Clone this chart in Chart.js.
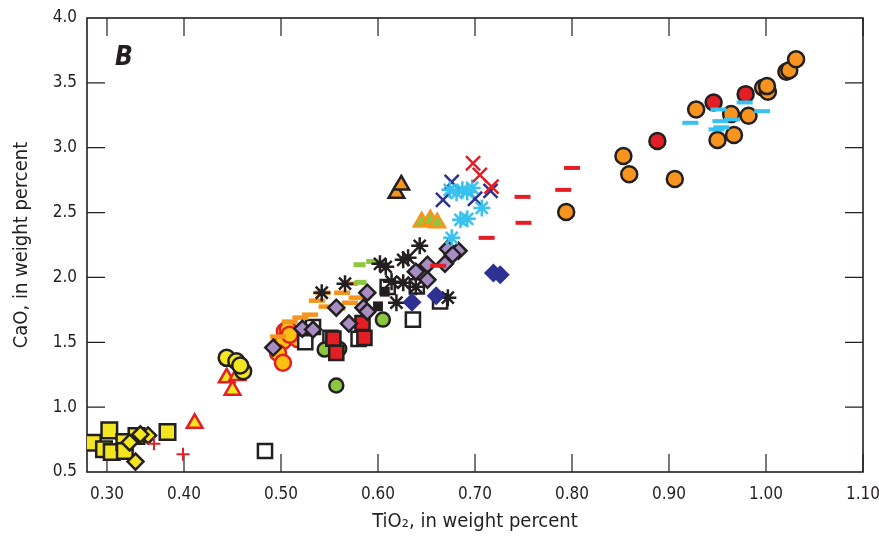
<!DOCTYPE html>
<html>
<head>
<meta charset="utf-8">
<script src="https://cdn.jsdelivr.net/npm/chart.js@4.4.1/dist/chart.umd.min.js"></script>
<style>
  html, body { margin: 0; padding: 0; background: #fff; }
</style>
</head>
<body>
<canvas id="chart" width="879" height="543"></canvas>
<script>
const FONT = "'Liberation Sans Narrow', 'DejaVu Sans Condensed', Roboto, sans-serif";

// axis ticks (the "0.30" tick sits a bit right of the left frame in the original)
const xTickValues = [0.3206, 0.4, 0.5, 0.6, 0.7, 0.8, 0.9, 1.0, 1.1];
const xTickLabels = ["0.30", "0.40", "0.50", "0.60", "0.70", "0.80", "0.90", "1.00", "1.10"];
const yTickValues = [1.0, 1.5, 2.0, 2.5, 3.0, 3.5];

// [TiO2, CaO] pairs, one list per symbol
const yellowSquares = [[0.306, 0.726], [0.323, 0.821], [0.3175, 0.675], [0.3255, 0.654], [0.3385, 0.731], [0.339, 0.662], [0.351, 0.777], [0.383, 0.808]];
const yellowDiamonds = [[0.350, 0.580], [0.363, 0.782], [0.355, 0.790], [0.344, 0.728]];
const redPlus = [[0.369, 0.718], [0.399, 0.636]];
const yellowTriangles = [[0.411, 0.875], [0.444, 1.226], [0.450, 1.131], [0.455, 1.244]];
const yellowCircles = [[0.444, 1.380], [0.454, 1.354], [0.461, 1.277], [0.458, 1.321]];
const goldCircles = [[0.504, 1.585], [0.507, 1.603], [0.517, 1.526], [0.502, 1.508], [0.497, 1.418], [0.502, 1.342], [0.509, 1.559]];
const purpleDiamonds = [[0.492, 1.459], [0.522, 1.605], [0.533, 1.598], [0.570, 1.644], [0.557, 1.767], [0.585, 1.767], [0.589, 1.736], [0.589, 1.882], [0.639, 2.044], [0.651, 2.098], [0.651, 1.982], [0.669, 2.105], [0.672, 2.221], [0.683, 2.205], [0.677, 2.175]];
const orangeDashes = [[0.543, 1.882], [0.563, 1.882], [0.571, 1.952], [0.537, 1.821], [0.578, 1.844], [0.571, 1.805], [0.547, 1.775], [0.558, 1.759], [0.530, 1.713], [0.520, 1.690], [0.509, 1.659], [0.497, 1.544]];
const greenDashes = [[0.581, 2.098], [0.594, 2.123], [0.582, 1.962]];
const blackStars = [[0.602, 2.105], [0.608, 2.082], [0.626, 2.136], [0.631, 2.152], [0.643, 2.244], [0.614, 1.967], [0.626, 1.959], [0.639, 1.928], [0.619, 1.805], [0.672, 1.844], [0.566, 1.952], [0.542, 1.882]];
const blackSquares = [[0.600, 1.777], [0.607, 1.890]];
const openSquares = [[0.4835, 0.662], [0.525, 1.500], [0.533, 1.618], [0.580, 1.526], [0.610, 1.926], [0.636, 1.675], [0.640, 1.931], [0.664, 1.815], [0.551, 1.534]];
const redSquares = [[0.554, 1.528], [0.584, 1.649], [0.586, 1.534], [0.557, 1.418]];
const greenCircles = [[0.545, 1.444], [0.560, 1.449], [0.557, 1.167], [0.605, 1.675]];
const navyDiamonds = [[0.635, 1.808], [0.660, 1.859], [0.719, 2.034], [0.726, 2.021]];
const orangeTriangles = [[0.619, 2.649], [0.624, 2.713]];
const greenTriangles = [[0.645, 2.428], [0.654, 2.444], [0.661, 2.421]];
const navyCrosses = [[0.676, 2.736], [0.667, 2.598], [0.700, 2.606], [0.716, 2.667]];
const blueStars = [[0.674, 2.675], [0.681, 2.652], [0.687, 2.675], [0.692, 2.659], [0.697, 2.690], [0.707, 2.536], [0.685, 2.444], [0.692, 2.452], [0.676, 2.305]];
const redCrosses = [[0.698, 2.880], [0.705, 2.790], [0.717, 2.700]];
const redDashes = [[0.662, 2.090], [0.712, 2.305], [0.749, 2.621], [0.750, 2.421], [0.791, 2.675], [0.800, 2.844]];
const orangeCircles = [[0.794, 2.505], [0.853, 2.936], [0.859, 2.795], [0.906, 2.759], [0.928, 3.295], [0.950, 3.059], [0.967, 3.098], [0.964, 3.259], [0.982, 3.246], [0.997, 3.462], [1.002, 3.431], [1.001, 3.475], [1.021, 3.585], [1.024, 3.598], [1.031, 3.682]];
const redCircles = [[0.888, 3.052], [0.946, 3.349], [0.979, 3.413]];
const blueDashes = [[0.922, 3.192], [0.951, 3.295], [0.978, 3.349], [0.996, 3.282], [0.953, 3.205], [0.965, 3.218], [0.949, 3.141], [0.954, 3.157]];

const YELLOW = "#f3e51f", ORANGE = "#f7941d", RED = "#e31e24", PURPLE = "#a78dc3",
  NAVY = "#2e3192", LBLUE = "#37c2ef", GREEN = "#8dc63f", INK = "#231f20";

function series(pts, style) {
  return Object.assign({ data: pts.map(([x, y]) => ({ x, y })), pointHoverRadius: 0 }, style);
}

// first dataset is drawn on top
const datasets = [
  series(blueDashes, { pointStyle: "line", radius: 8, borderWidth: 4, borderColor: LBLUE }),
  series(redCircles, { pointStyle: "circle", radius: 8, borderWidth: 2.5, borderColor: INK, backgroundColor: RED }),
  series(orangeCircles, { pointStyle: "circle", radius: 8, borderWidth: 2.5, borderColor: INK, backgroundColor: ORANGE }),
  series(redDashes, { pointStyle: "line", radius: 8, borderWidth: 4, borderColor: RED }),
  series(redCrosses, { pointStyle: "crossRot", radius: 10, borderWidth: 2.5, borderColor: RED }),
  series(blueStars, { pointStyle: "star", radius: 8.5, borderWidth: 2.5, borderColor: LBLUE }),
  series(navyCrosses, { pointStyle: "crossRot", radius: 10, borderWidth: 2.5, borderColor: NAVY }),
  series(greenTriangles, { pointStyle: "triangle", radius: 9, borderWidth: 2.5, borderColor: ORANGE, backgroundColor: GREEN }),
  series(orangeTriangles, { pointStyle: "triangle", radius: 9, borderWidth: 2.5, borderColor: INK, backgroundColor: ORANGE }),
  series(navyDiamonds, { pointStyle: "rectRot", radius: 9.5, borderWidth: 0, backgroundColor: NAVY }),
  series(blackStars, { pointStyle: "star", radius: 8.5, borderWidth: 2.5, borderColor: INK }),
  series(purpleDiamonds, { pointStyle: "rectRot", radius: 8, borderWidth: 2.5, borderColor: INK, backgroundColor: PURPLE }),
  series(greenDashes, { pointStyle: "line", radius: 6, borderWidth: 5, borderColor: GREEN }),
  series(orangeDashes, { pointStyle: "line", radius: 8, borderWidth: 4.5, borderColor: ORANGE }),
  series(blackSquares, { pointStyle: "rect", radius: 7, borderWidth: 0, backgroundColor: INK }),
  series(redSquares, { pointStyle: "rect", radius: 10, borderWidth: 2.5, borderColor: INK, backgroundColor: RED }),
  series(greenCircles, { pointStyle: "circle", radius: 7, borderWidth: 2.5, borderColor: INK, backgroundColor: GREEN }),
  series(openSquares, { pointStyle: "rect", radius: 10, borderWidth: 2.5, borderColor: INK, backgroundColor: "#fff" }),
  series(goldCircles, { pointStyle: "circle", radius: 8, borderWidth: 2.5, borderColor: RED, backgroundColor: "#fdc20f" }),
  series(yellowCircles, { pointStyle: "circle", radius: 8, borderWidth: 2.5, borderColor: INK, backgroundColor: YELLOW }),
  series(yellowTriangles, { pointStyle: "triangle", radius: 9, borderWidth: 2.5, borderColor: RED, backgroundColor: YELLOW }),
  series(redPlus, { pointStyle: "cross", radius: 6.5, borderWidth: 2, borderColor: RED }),
  series(yellowDiamonds, { pointStyle: "rectRot", radius: 8, borderWidth: 2.5, borderColor: INK, backgroundColor: YELLOW }),
  series(yellowSquares, { pointStyle: "rect", radius: 11, borderWidth: 2.5, borderColor: INK, backgroundColor: YELLOW }),
];

// frame, inward tick marks on all four sides, panel letter
const framePlugin = {
  id: "frame",
  beforeDatasetsDraw(chart) {
    const { ctx, chartArea: a, scales: { x, y } } = chart;
    ctx.save();
    ctx.strokeStyle = INK;
    ctx.lineWidth = 1.2;
    ctx.beginPath();
    xTickValues.forEach(v => {
      const px = x.getPixelForValue(v);
      ctx.moveTo(px, a.bottom); ctx.lineTo(px, a.bottom - 18);
      ctx.moveTo(px, a.top); ctx.lineTo(px, a.top + 18);
    });
    yTickValues.forEach(v => {
      const py = y.getPixelForValue(v);
      ctx.moveTo(a.left, py); ctx.lineTo(a.left + 18, py);
      ctx.moveTo(a.right, py); ctx.lineTo(a.right - 18, py);
    });
    ctx.stroke();
    ctx.lineWidth = 1.6;
    ctx.strokeRect(a.left, a.top, a.right - a.left, a.bottom - a.top);
    ctx.fillStyle = INK;
    ctx.font = "italic bold 26px " + FONT;
    ctx.textBaseline = "middle";
    ctx.fillText("B", a.left + 28, a.top + 40);
    ctx.restore();
  },
};

new Chart(document.getElementById("chart"), {
  type: "scatter",
  data: { datasets },
  plugins: [framePlugin],
  options: {
    responsive: false,
    animation: false,
    layout: { padding: { top: 18, right: 0, left: 0, bottom: 0 } },
    plugins: { legend: { display: false }, tooltip: { enabled: false } },
    scales: {
      x: {
        type: "linear",
        min: 0.3,
        max: 1.1,
        afterBuildTicks: s => { s.ticks = xTickValues.map(value => ({ value })); },
        afterFit: s => { s.height = 71; s.paddingRight = 16; s.paddingLeft = 0; },
        grid: { display: false, drawTicks: false },
        border: { display: false },
        ticks: {
          padding: 12,
          color: INK,
          font: { family: FONT, size: 17 },
          callback: (v, i) => xTickLabels[i],
        },
        title: {
          display: true,
          text: "TiO₂, in weight percent",
          color: INK,
          font: { family: FONT, size: 20 },
          padding: { bottom: 9 },
        },
      },
      y: {
        type: "linear",
        min: 0.5,
        max: 4.0,
        afterFit: s => { s.width = 87; s.paddingTop = 0; s.paddingBottom = 0; },
        grid: { display: false, drawTicks: false },
        border: { display: false },
        ticks: {
          stepSize: 0.5,
          padding: 10,
          color: INK,
          font: { family: FONT, size: 17 },
          callback: v => v.toFixed(1),
        },
        title: {
          display: true,
          text: "CaO, in weight percent",
          color: INK,
          font: { family: FONT, size: 20 },
          padding: { top: 10 },
        },
      },
    },
  },
});
</script>
</body>
</html>
